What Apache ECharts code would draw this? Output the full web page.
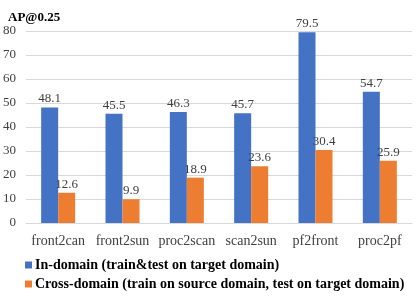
<!DOCTYPE html>
<html><head><meta charset="utf-8">
<script src="https://cdn.jsdelivr.net/npm/echarts@6/dist/echarts.min.js"></script>
<style>html,body{margin:0;padding:0;background:#fff}#c{width:418px;height:301px}</style>
</head><body><div id="c"></div>
<script>
var categories = ['front2can','front2sun','proc2scan','scan2sun','pf2front','proc2pf'];
var inDomain = [48.1, 45.5, 46.3, 45.7, 79.5, 54.7];
var crossDomain = [12.6, 9.9, 18.9, 23.6, 30.4, 25.9];
var seriesNames = ['In-domain (train&test on target domain)', 'Cross-domain (train on source domain, test on target domain)'];
var yTicks = {min: 0, max: 80, interval: 10};
var FONT = '"Liberation Serif", "Times New Roman", serif';
var chart = echarts.init(document.getElementById('c'), null, {renderer: 'canvas'});
var labelStyle = {show: true, position: 'top', distance: 2, color: '#404040', fontFamily: FONT, fontSize: 13};
chart.setOption({
  animation: false,
  title: {text: 'AP@0.25', left: 3, top: 6, textStyle: {fontFamily: FONT, fontSize: 13, fontWeight: 'bold', color: '#000'}},
  legend: {
    orient: 'vertical', left: 20, top: 253, itemWidth: 7, itemHeight: 7, itemGap: 5, icon: 'rect',
    textStyle: {fontFamily: FONT, fontSize: 14, fontWeight: 'bold', color: '#000', padding: [0,0,0,-2]},
    data: seriesNames
  },
  grid: {left: 25, right: 6, top: 31, bottom: 78},
  xAxis: {
    type: 'category', data: categories,
    axisLine: {lineStyle: {color: '#d9d9d9'}}, axisTick: {show: false},
    axisLabel: {interval: 0, fontFamily: FONT, fontSize: 14, color: '#404040', margin: 11}
  },
  yAxis: {
    type: 'value', min: yTicks.min, max: yTicks.max, interval: yTicks.interval,
    axisLine: {show: false}, axisTick: {show: false},
    splitLine: {lineStyle: {color: '#d9d9d9'}},
    axisLabel: {fontFamily: FONT, fontSize: 13, color: '#404040', margin: 10}
  },
  series: [
    {name: seriesNames[0], type: 'bar', data: inDomain, barWidth: 17, barGap: '0%', itemStyle: {color: '#4472C4'}, label: labelStyle},
    {name: seriesNames[1], type: 'bar', data: crossDomain, barWidth: 17, barGap: '0%', itemStyle: {color: '#ED7D31'}, label: labelStyle}
  ]
});
</script></body></html>
